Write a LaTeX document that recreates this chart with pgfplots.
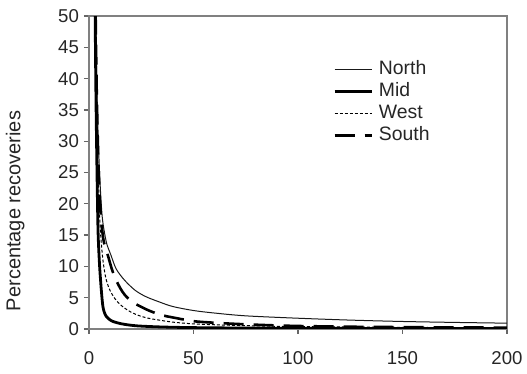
\documentclass[border=0pt]{standalone}
\usepackage{pgfplots}
\pgfplotsset{compat=1.18}
\usepackage{fontspec}
\setmainfont{Liberation Sans}
\begin{document}
\begin{tikzpicture}
\begin{axis}[
  scale only axis, width=209pt, height=156.5pt,
  xmin=0, xmax=200, ymin=0, ymax=50,
  xtick={0,50,...,200}, ytick={0,5,...,50},
  tick align=outside, major tick length=2.5pt,
  xtick pos=bottom, ytick pos=left,
  axis line style={black!50, line width=0.7pt},
  tick style={black!60, line width=0.6pt},
  /pgf/number format/assume math mode=true,
  ticklabel style={font=\fontsize{9.3}{11}\selectfont, text=black!85},
  yticklabel style={xshift=1pt},
  xticklabel style={yshift=-5pt},
  ylabel={Percentage recoveries},
  ylabel style={font=\fontsize{10}{12}\selectfont, text=black!85, at={(axis description cs:-0.153,0.377)}, anchor=south, inner sep=0pt},
  clip=true,
  legend cell align=left,
  legend image code/.code={\draw[#1] (0pt,0pt) -- (18.5pt,0pt);},
  legend style={draw=none, fill=none, inner sep=0pt, outer sep=0pt,
    at={(rel axis cs:0.584,0.724)}, anchor=west,
    font=\fontsize{9.7}{11}\selectfont, text=black!85,
    nodes={inner sep=0pt, text height=7pt, text depth=2pt},
    row sep=2pt, column sep=3pt},
]
\coordinate (bl) at (rel axis cs:0,0);
\coordinate (tr) at (rel axis cs:1,1);
\addplot[black!90, line width=0.5pt, smooth] coordinates {
(3.0,55)(3.3,48)(3.7,40)(4.2,33)(4.8,27)(5.5,22)(6.3,18)(7.2,15.8)(8.5,13.6)(10.5,11.8)(13,9.6)(17,7.8)(22,6.2)(27,5.2)(33,4.4)(40,3.6)(50,2.95)(60,2.55)(75,2.1)(100,1.72)(125,1.42)(150,1.2)(175,1.05)(200,0.93)
};
\addlegendentry{North}
\addplot[black, line width=1.4pt, smooth] coordinates {
(2.8,55)(3.0,48)(3.3,38)(3.7,28)(4.3,16)(5.0,10.5)(5.6,7.5)(6.2,5)(6.7,3.5)(7.4,2.6)(8.3,2.0)(9.5,1.6)(11.5,1.2)(16,0.8)(23,0.5)(35,0.32)(50,0.22)(75,0.15)(100,0.11)(150,0.08)(200,0.06)
};
\addlegendentry{Mid}
\addplot[black, line width=0.5pt, dash pattern=on 1.5pt off 1pt, smooth] coordinates {
(2.9,55)(3.2,47)(3.6,38)(4.2,28)(5.0,19)(5.6,15)(6.5,11.5)(7.4,9.3)(8.3,7.8)(10,6.2)(12.5,4.8)(15.3,3.8)(19,2.9)(23.4,2.2)(28,1.75)(33,1.45)(40,1.1)(50,0.82)(65,0.62)(80,0.5)(100,0.38)(150,0.26)(200,0.18)
};
\addlegendentry{West}
\addplot[black, line width=1.3pt, dash pattern=on 10pt off 5pt, smooth] coordinates {
(3.0,55)(3.3,47)(3.7,38)(4.3,29)(5.0,22)(5.8,17.5)(6.8,14.5)(7.8,13)(9,11.8)(11,9.5)(13,7.8)(15,6.5)(17,5.5)(20,4.5)(23.4,3.8)(29,2.9)(35,2.2)(40,1.85)(50,1.25)(60,1.0)(70,0.82)(85,0.62)(100,0.48)(125,0.36)(150,0.3)(175,0.25)(200,0.22)
};
\addlegendentry{South}
\end{axis}
\pgfresetboundingbox
\path ([xshift=-44.5pt,yshift=-22.5pt]bl) rectangle ([xshift=10pt,yshift=8pt]tr);
\end{tikzpicture}
\end{document}
